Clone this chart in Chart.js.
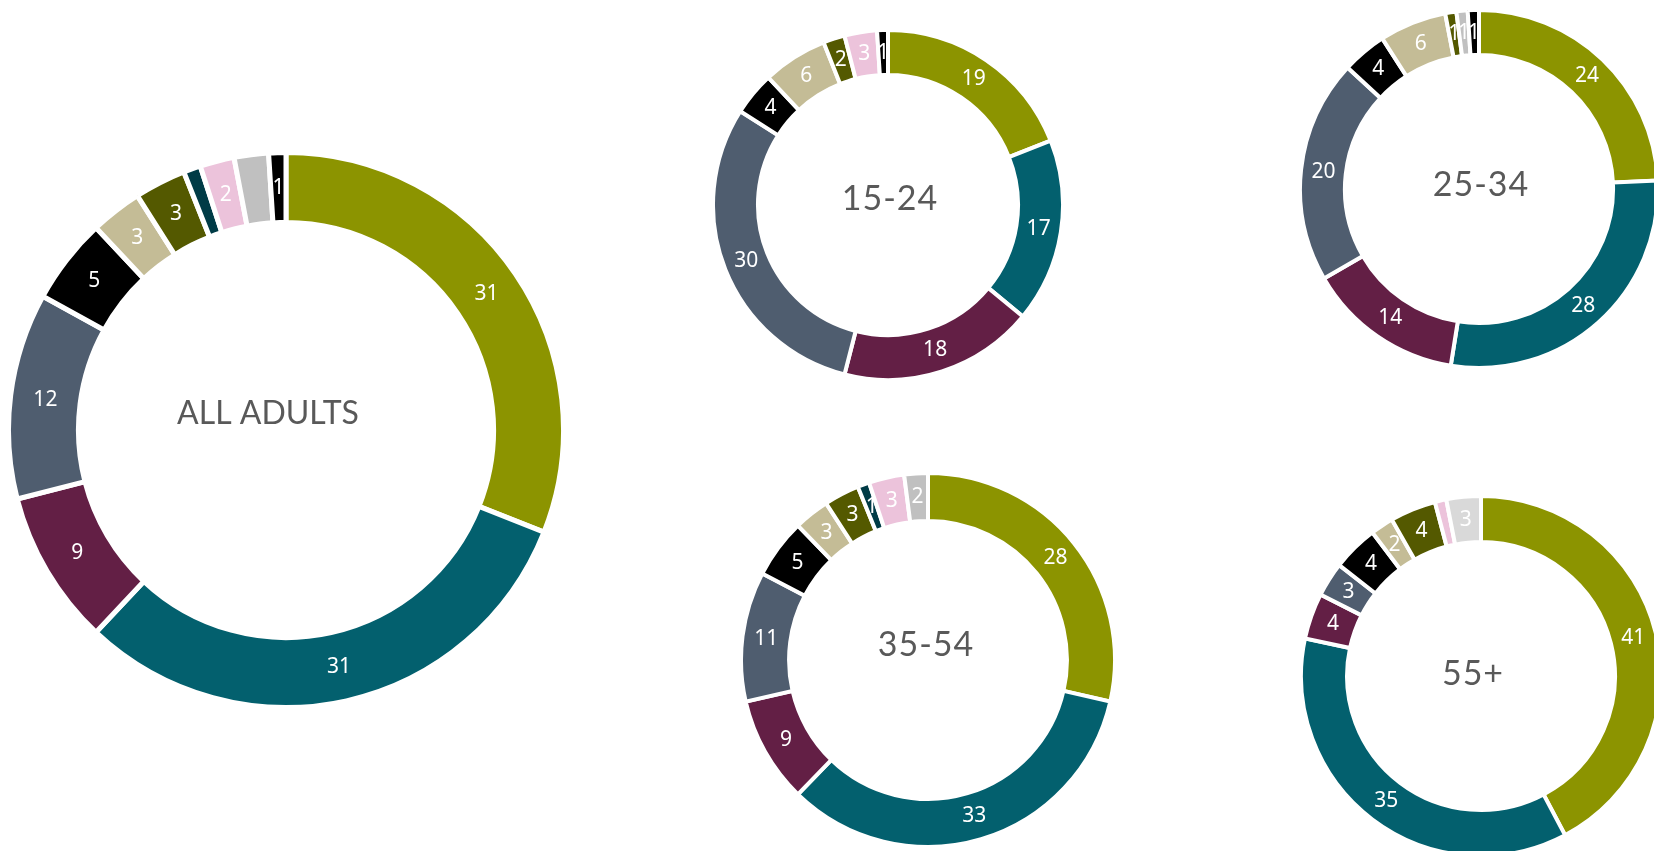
<!DOCTYPE html>
<html>
<head>
<meta charset="utf-8">
<title>Donut charts by age</title>
<script src="https://cdn.jsdelivr.net/npm/chart.js@4.4.1/dist/chart.umd.min.js"></script>
<style>
  html, body { margin: 0; padding: 0; background: #fff; overflow: hidden; width: 1654px; height: 851px; }
  canvas { position: absolute; }
</style>
</head>
<body>
<canvas id="allAdults" width="560" height="560" style="left:6px;top:150px"></canvas>
<canvas id="age1524" width="354" height="354" style="left:711px;top:28px"></canvas>
<canvas id="age2534" width="362" height="362" style="left:1298px;top:8px"></canvas>
<canvas id="age3554" width="378" height="378" style="left:739px;top:471px"></canvas>
<canvas id="age55" width="364" height="364" style="left:1299px;top:494px"></canvas>
<script>
// categories, same order in every ring (clockwise from 12 o'clock)
const categories = ['Cat 1', 'Cat 2', 'Cat 3', 'Cat 4', 'Cat 5', 'Cat 6',
  'Cat 7', 'Cat 8', 'Cat 9', 'Cat 10', 'Cat 11', 'Cat 12'];

const allAdults = [31, 31, 9, 12, 5, 3, 3, 1, 2, 2, 1, 0];
const age15to24 = [19, 17, 18, 30, 4, 6, 2, 0, 3, 0, 1, 0];
const age25to34 = [24, 28, 14, 20, 4, 6, 1, 0, 0, 1, 1, 0];
const age35to54 = [28, 33, 9, 11, 5, 3, 3, 1, 3, 2, 0, 0];
const age55plus = [41, 35, 4, 3, 4, 2, 4, 0, 1, 0, 0, 3];

const palette = ['#8C9400', '#03606E', '#631F45', '#4F5D6F', '#000000', '#C4BC96',
  '#545900', '#003B46', '#ECC3DB', '#C0C0C0', '#000000', '#D9D9D9'];

// value labels + ring title
const ringText = {
  id: 'ringText',
  afterDatasetsDraw(chart, args, opts) {
    const ctx = chart.ctx;
    const meta = chart.getDatasetMeta(0);
    const values = chart.data.datasets[0].data;
    ctx.save();
    ctx.textAlign = 'center';
    ctx.textBaseline = 'middle';
    ctx.fillStyle = '#ffffff';
    ctx.font = '21px "Noto Sans"';
    meta.data.forEach((arc, i) => {
      if (!values[i] || (opts.skip || []).includes(i)) return;
      const p = arc.tooltipPosition();
      ctx.fillText(String(values[i]), p.x, p.y);
    });
    const c = meta.data[0];
    ctx.fillStyle = '#595959';
    ctx.font = opts.titleSize + 'px Lato';
    ctx.letterSpacing = opts.spacing;
    ctx.fillText(opts.title, c.x + opts.dx, c.y + opts.dy);
    ctx.restore();
  }
};

function makeRing(id, values, cutout, border, title, titleSize, spacing, dx, dy, skip) {
  const ctx = document.getElementById(id).getContext('2d');
  return new Chart(ctx, {
    type: 'doughnut',
    data: {
      labels: categories,
      datasets: [{
        data: values,
        backgroundColor: palette,
        borderColor: '#ffffff',
        borderWidth: border,
        borderJoinStyle: 'miter'
      }]
    },
    options: {
      responsive: false,
      animation: false,
      cutout: cutout,
      layout: { padding: 0 },
      plugins: {
        legend: { display: false },
        tooltip: { enabled: false },
        ringText: { title: title, titleSize: titleSize, spacing: spacing, dx: dx, dy: dy, skip: skip }
      }
    },
    plugins: [ringText]
  });
}

makeRing('allAdults', allAdults, '74.8%', 5, 'ALL ADULTS', 32, '0px', -18, -16, [7, 9]);
makeRing('age1524', age15to24, '74.3%', 4, '15-24', 34, '1px', 2, -6, []);
makeRing('age2534', age25to34, '74.9%', 4, '25-34', 34, '1px', 2, -4, []);
makeRing('age3554', age35to54, '74.3%', 4, '35-54', 34, '1px', -2, -15, []);
makeRing('age55', age55plus, '74.4%', 4, '55+', 34, '1px', -8, -2, [8]);
</script>
</body>
</html>
